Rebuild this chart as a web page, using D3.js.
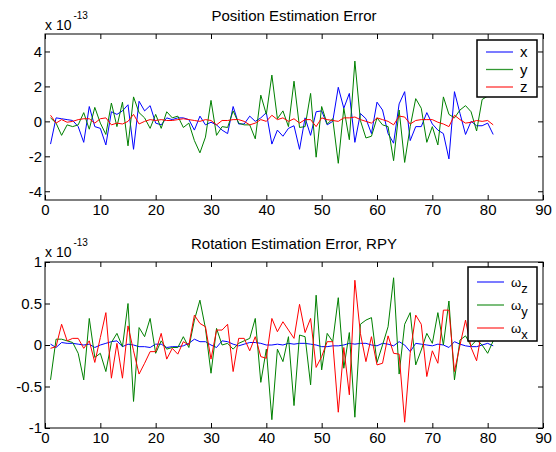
<!DOCTYPE html>
<html><head><meta charset="utf-8">
<script src="https://cdn.jsdelivr.net/npm/d3@7"></script>
<style>
html,body{margin:0;padding:0;background:#fff;}
svg{display:block;font-family:"Liberation Sans",Arial,sans-serif;}
</style></head>
<body><svg id="chart" width="556" height="452"></svg>
<script>
// ---- data (values in units of 1e-13) ----
const xTicks = [0,10,20,30,40,50,60,70,80,90];
const posYTicks = [-4,-2,0,2,4];
const rotYTicks = [-1,-0.5,0,0.5,1];

const posX = [-1.3,0.2,0.15,0.1,0.05,-0.3,-1.2,0.85,-0.3,-0.4,-1.35,0.55,0.4,0.6,0.95,-1.6,1.15,0.6,0.9,-0.1,
 -0.2,0.2,0.1,0.2,0.2,0.1,-0.5,0.3,-0.2,-0.05,-0.2,-0.5,-0.7,0.85,-0.15,-0.15,0.3,0.0,0.2,0.5,
 -1.3,-0.5,-0.85,-0.4,-0.25,-1.6,0.2,-0.8,0.55,0.6,-0.2,0,1.95,0.75,1.6,-1.2,0.45,0.15,-0.7,1.1,
 0.65,-0.7,-1.25,1.0,1.7,-1.1,-0.3,-0.3,0.5,-0.15,-0.5,-0.7,-2.15,1.7,0.45,-0.75,0,-0.25,-0.25,-0.1,-0.75];
const posY = [0.2,-0.1,-0.8,-0.2,-0.3,-0.2,0.5,-0.45,0.8,-0.1,-0.75,1.05,-0.3,1.1,-1.4,1.4,0.5,0.2,-0.4,0.4,
 -0.4,0.55,0.2,0.3,-0.35,-0.1,-1.1,-1.8,-0.9,1.2,-0.8,-0.3,-0.35,0.6,-0.1,-0.2,-0.2,-1.0,1.5,0.4,
 2.65,0.15,0.6,-0.3,2.3,-0.35,-0.3,1.6,-2.05,0.85,-0.15,0.15,-2.4,0.75,-1.05,3.45,0.05,-0.95,-0.85,0.2,
 -0.2,-0.3,-2.25,0.65,-2.35,-0.3,1.3,0.75,-1.2,-0.3,-1.35,1.4,0.4,0.2,0.65,0.9,0.55,-0.55,1.25,1.45,1.7];
const posZ = [0.35,-0.1,0.1,-0.05,0.0,0.1,0.15,0.15,-0.1,0.15,0.2,-0.2,-0.1,-0.15,0.0,0.4,-0.15,0.0,0.1,0.05,
 0.1,0.05,0.05,0.1,0.15,0.1,0.05,0.0,0.1,0.05,-0.2,0.05,0.05,0.1,0.1,0.0,-0.2,-0.1,0.1,0.0,
 0.35,0.1,0.2,0,0.15,-0.1,0.1,0.1,-0.3,0.2,0.1,0.05,0,0.2,0.2,0.25,0.1,0,-0.1,0.2,
 0.1,0,-0.2,0.3,0.25,-0.15,0.05,0.1,0.1,0.1,-0.05,-0.15,-0.3,0.35,0.1,-0.1,-0.05,0.05,0,0.05,-0.2];

const rotZ = [0.01,-0.03,0.03,0.02,0.02,0.01,0.0,0.01,-0.03,0.0,0.02,0.04,0.05,-0.02,0.01,0.0,-0.02,-0.02,-0.03,0.01,
 0.01,-0.03,-0.02,-0.02,-0.01,0.02,0.07,0.04,0.04,0.0,-0.03,0.05,0.04,0.01,-0.01,0.01,0.03,0.03,0.02,0.0,
 0.0,0.01,0.0,0.02,0.01,0.02,0.02,0.01,0.0,-0.02,-0.02,-0.01,-0.01,0.0,0.02,0.01,0.02,0.02,0.0,-0.01,
 0.02,0.01,-0.01,0.04,0.0,-0.08,0.02,0.01,0.0,-0.01,0.01,0.0,-0.03,0.04,0.01,-0.01,-0.02,-0.02,0.0,0.02,-0.01];
const rotY = [-0.42,0.07,0.07,0.05,0.03,-0.1,-0.42,0.32,-0.15,-0.1,-0.32,0.03,0.14,-0.02,0.5,-0.68,0.21,0.1,0.32,-0.1,
 0.05,-0.05,-0.03,-0.03,0.1,-0.03,0.3,0.54,0.2,-0.34,0.2,0.0,0.02,-0.05,0.02,0.05,0.08,0.32,-0.45,-0.05,
 -0.9,-0.05,-0.2,0.1,-0.73,0.12,0.1,-0.48,0.6,-0.3,0.14,0.04,0.57,-0.28,0.15,-0.87,0.25,0.3,0.33,-0.21,
 0.0,0.22,0.81,-0.35,0.25,0.39,-0.24,-0.06,0.14,0.02,0.39,0.0,0.53,-0.42,0.06,0.11,-0.01,0.06,0.0,-0.1,0.05];
const rotX = [-0.04,-0.02,0.25,0.05,0.08,0.08,-0.04,0.05,-0.21,0.09,0.39,-0.4,0.02,-0.4,0.23,-0.07,-0.35,-0.22,-0.08,-0.08,
 0.14,-0.17,-0.04,-0.11,0.04,0.0,0.36,0.26,0.22,-0.17,0.18,0.18,0.25,-0.32,0.08,0.08,-0.07,0.1,-0.14,-0.16,
 0.32,0.16,0.28,0.18,0.08,0.49,0.15,0.32,-0.27,-0.14,0.04,0.04,-0.81,-0.03,-0.6,0.78,0.14,-0.2,0.1,-0.24,
 -0.22,0.11,-0.1,-0.11,-0.93,-0.1,0.36,0.25,-0.38,-0.07,-0.22,0.42,0.42,-0.32,0,0.3,-0.03,-0.19,0.2,0.15,0.12];

const colors = {blue:"#0000ff", green:"#008000", red:"#ff0000"};

const panels = [
  {title:"Position Estimation Error", top:34, bottom:200, yDomain:[-4.5,5], yTicks:posYTicks,
   series:[{v:posX,c:colors.blue,label:"x"},{v:posY,c:colors.green,label:"y"},{v:posZ,c:colors.red,label:"z"}],
   titleY:21, expY:30, legend:{x:477,y:40,w:60,h:57,rows:[52,69.5,87],lx0:486,lx1:513,tx:520,sub:false}},
  {title:"Rotation Estimation Error, RPY", top:262, bottom:428, yDomain:[-1,1], yTicks:rotYTicks,
   series:[{v:rotZ,c:colors.blue,label:"z"},{v:rotY,c:colors.green,label:"y"},{v:rotX,c:colors.red,label:"x"}],
   titleY:249, expY:257, legend:{x:468,y:267,w:69,h:74,rows:[282,305,328],lx0:477,lx1:504,tx:511,sub:true}}
];

const svg = d3.select("#chart");
const left = 45, right = 543;
const x = d3.scaleLinear().domain([0,90]).range([left,right]);

panels.forEach((p,pi)=>{
  const y = d3.scaleLinear().domain(p.yDomain).range([p.bottom,p.top]);
  const g = svg.append("g");

  // lines
  const clipId = "clip"+pi;
  svg.append("clipPath").attr("id",clipId).append("rect")
    .attr("x",left).attr("y",p.top).attr("width",right-left).attr("height",p.bottom-p.top);
  const line = d3.line().x((d,i)=>x(i+1)).y(d=>y(d));
  p.series.forEach(s=>{
    g.append("path").attr("d",line(s.v)).attr("fill","none")
      .attr("stroke",s.c).attr("stroke-width",1).attr("clip-path","url(#"+clipId+")");
  });

  // axes
  const ax = g.append("g");
  const bottomAxis = d3.axisBottom(x).tickValues(xTicks).tickSizeInner(-5).tickSizeOuter(0).tickPadding(4);
  ax.append("g").attr("transform",`translate(0,${p.bottom})`).call(bottomAxis);
  const topAxis = d3.axisTop(x).tickValues(xTicks).tickSizeInner(-5).tickSizeOuter(0).tickFormat("");
  ax.append("g").attr("transform",`translate(0,${p.top})`).call(topAxis);
  const leftAxis = d3.axisLeft(y).tickValues(p.yTicks).tickSizeInner(-5).tickSizeOuter(0).tickPadding(3).tickFormat(d=>String(d));
  ax.append("g").attr("transform",`translate(${left},0)`).call(leftAxis);
  const rightAxis = d3.axisRight(y).tickValues(p.yTicks).tickSizeInner(-5).tickSizeOuter(0).tickFormat("");
  ax.append("g").attr("transform",`translate(${right},0)`).call(rightAxis);
  ax.selectAll(".domain").remove();
  ax.selectAll("text").attr("fill","#000").attr("font-size",15)
    .attr("font-family","'Liberation Sans',Arial,sans-serif");
  ax.selectAll("line").attr("stroke","#000");
  // box
  g.append("rect").attr("x",left).attr("y",p.top).attr("width",right-left).attr("height",p.bottom-p.top)
    .attr("fill","none").attr("stroke","#000").attr("stroke-width",1);

  // title
  g.append("text").attr("x",(left+right)/2).attr("y",p.titleY).attr("text-anchor","middle")
    .attr("font-size",15).attr("fill","#000").text(p.title);
  // exponent
  const ex = g.append("text").attr("x",left).attr("y",p.expY).attr("font-size",14).attr("fill","#000");
  ex.append("tspan").text("x 10");
  ex.append("tspan").attr("dy",-11).attr("dx",2).attr("font-size",10).text("-13");

  // legend
  const L = p.legend;
  const lg = g.append("g");
  lg.append("rect").attr("x",L.x).attr("y",L.y).attr("width",L.w).attr("height",L.h)
    .attr("fill","#fff").attr("stroke","#000").attr("stroke-width",1.5);
  p.series.forEach((s,i)=>{
    const ry = L.rows[i];
    lg.append("line").attr("x1",L.lx0).attr("x2",L.lx1).attr("y1",ry).attr("y2",ry)
      .attr("stroke",s.c).attr("stroke-width",1.3).attr("stroke-opacity",0.8);
    const t = lg.append("text").attr("x",L.tx).attr("y",ry+5).attr("font-size",15).attr("fill","#000");
    if(L.sub){
      t.append("tspan").attr("font-size",13).text("ω");
      t.append("tspan").attr("dy",6).attr("font-size",13).text(s.label);
    } else {
      t.text(s.label);
    }
  });
});
</script></body></html>
